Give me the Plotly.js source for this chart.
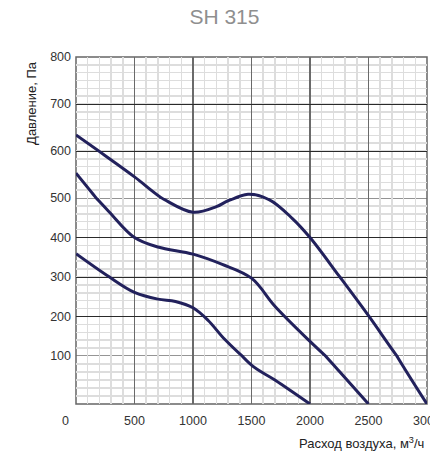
<!DOCTYPE html>
<html>
<head>
<meta charset="utf-8">
<script src="https://cdn.plot.ly/plotly-3.0.1.min.js"></script>
<style>html,body{margin:0;padding:0;background:#fff;}#chart{width:430px;height:457px;}</style>
</head>
<body>
<div id="chart"></div>
<script>
// Data (airflow m³/h vs pressure Pa)
const curveHighX = [0, 250, 500, 750, 1000, 1200, 1300, 1470, 1650, 1850, 2000, 2250, 2500, 2750, 3000];
const curveHighY = [634, 590, 545, 497, 464, 478, 493, 508, 496, 448, 400, 302, 202, 97, 0];
const curveMidX = [0, 150, 280, 500, 700, 1000, 1250, 1500, 1700, 2000, 2250, 2500];
const curveMidY = [553, 507, 466, 400, 376, 358, 332, 297, 226, 137, 68, 0];
const curveLowX = [0, 280, 500, 700, 850, 1000, 1130, 1275, 1500, 1700, 2000];
const curveLowY = [359, 301, 261, 244, 238, 222, 190, 141, 81, 50, 0];

const xTickVals = [500, 1000, 1500, 2000, 2500];
const xTickText = ['500', '1000', '1500', '2000', '2500'];
const xEdgeTick = 3000;
const xEdgeText = '3000';
const xOriginText = '0';
const yTickValsMid = [100, 200, 300, 400, 500];
const yTickValsTop = [600, 700, 800];

const titleText = 'SH 315';
const yTitleText = 'Давление, Па';
const xTitleText = 'Расход воздуха, м<sup>3</sup>/ч';

const lineColor = '#22215c';
const curves = [[curveHighX, curveHighY], [curveMidX, curveMidY], [curveLowX, curveLowY]];
const yAxesIds = ['y', 'y2', 'y3'];

const traces = [];
curves.forEach(([xs, ys]) => {
  yAxesIds.forEach(ya => {
    traces.push({
      x: xs, y: ys, xaxis: 'x', yaxis: ya,
      type: 'scatter', mode: 'lines',
      line: {color: lineColor, width: 3, shape: 'spline', smoothing: 1},
      hoverinfo: 'skip', showlegend: false
    });
  });
});

const d1 = 48 / 347, d2 = 206 / 347;
const fontFam = 'Liberation Sans, Arial, sans-serif';
const tickFont = {family: fontFam, size: 12.5, color: '#333'};
const majorY = {showgrid: true, gridcolor: '#2a2a2a', gridwidth: 1};
const baseY = {
  anchor: 'x', ticks: '', zeroline: false, showline: false,
  tickfont: tickFont, tickmode: 'array', ticklabelstandoff: 4
};

const layout = {
  width: 430, height: 457,
  margin: {l: 76, r: 3, t: 57, b: 53},
  paper_bgcolor: '#fff', plot_bgcolor: '#fff',
  showlegend: false,
  title: {
    text: titleText, xref: 'container', yref: 'container',
    x: 0.522, xanchor: 'center', y: 0.963, yanchor: 'middle',
    font: {family: fontFam, size: 21, color: '#8f8f8f'}
  },
  xaxis: {
    domain: [0, 1], anchor: 'y', range: [0, 3000],
    tickmode: 'array', tickvals: xTickVals, ticktext: xTickText,
    ticks: '', zeroline: false, showline: false,
    showgrid: true, gridcolor: '#6a6a6a', gridwidth: 1.5,
    minor: {tickmode: 'linear', tick0: 0, dtick: 100, showgrid: true, gridcolor: '#dddddd', gridwidth: 1.5},
    tickfont: tickFont, ticklabelstandoff: 7
  },
  yaxis: Object.assign({}, baseY, {
    domain: [0, d1], range: [0, 100], tickvals: [], showticklabels: false,
    showgrid: false,
    minor: {tickmode: 'linear', tick0: 0, dtick: 100 / 6, showgrid: true, gridcolor: '#dddddd', gridwidth: 1.5}
  }),
  yaxis2: Object.assign({}, baseY, majorY, {
    domain: [d1, d2], range: [100, 500], tickvals: yTickValsMid,
    minor: {tickmode: 'linear', tick0: 100, dtick: 20, showgrid: true, gridcolor: '#dddddd', gridwidth: 1.5}
  }),
  yaxis3: Object.assign({}, baseY, majorY, {
    domain: [d2, 1], range: [500, 800], tickvals: yTickValsTop,
    minor: {tickmode: 'linear', tick0: 500, dtick: 100 / 6, showgrid: true, gridcolor: '#dddddd', gridwidth: 1.5}
  }),
  shapes: [
    {type: 'line', xref: 'paper', x0: 0, x1: 1, yref: 'y2', y0: 100, y1: 100, line: {color: '#2a2a2a', width: 1}, layer: 'below'},
    {type: 'line', xref: 'paper', x0: 0, x1: 1, yref: 'y2', y0: 500, y1: 500, line: {color: '#2a2a2a', width: 1}, layer: 'below'},
    {type: 'rect', xref: 'paper', yref: 'paper', x0: 0, x1: 1, y0: 0, y1: 1, line: {color: '#666', width: 1.5}, layer: 'below'}
  ],
  annotations: [
    {text: xOriginText, xref: 'paper', yref: 'paper', x: -0.031, y: -0.05, xanchor: 'center', yanchor: 'middle', showarrow: false, font: tickFont},
    {text: xEdgeText, xref: 'x', yref: 'paper', x: xEdgeTick, y: -0.05, xanchor: 'center', yanchor: 'middle', showarrow: false, font: tickFont},
    {text: yTitleText, xref: 'paper', yref: 'paper', x: -0.125, y: 0.868, xanchor: 'center', yanchor: 'middle', textangle: -90, showarrow: false,
     font: {family: fontFam, size: 13, color: '#222'}},
    {text: xTitleText, xref: 'paper', yref: 'paper', x: 0.998, y: -0.112, xanchor: 'right', yanchor: 'middle', showarrow: false,
     font: {family: fontFam, size: 13, color: '#222'}}
  ]
};

Plotly.newPlot('chart', traces, layout, {staticPlot: true, displayModeBar: false});
</script>
</body>
</html>
